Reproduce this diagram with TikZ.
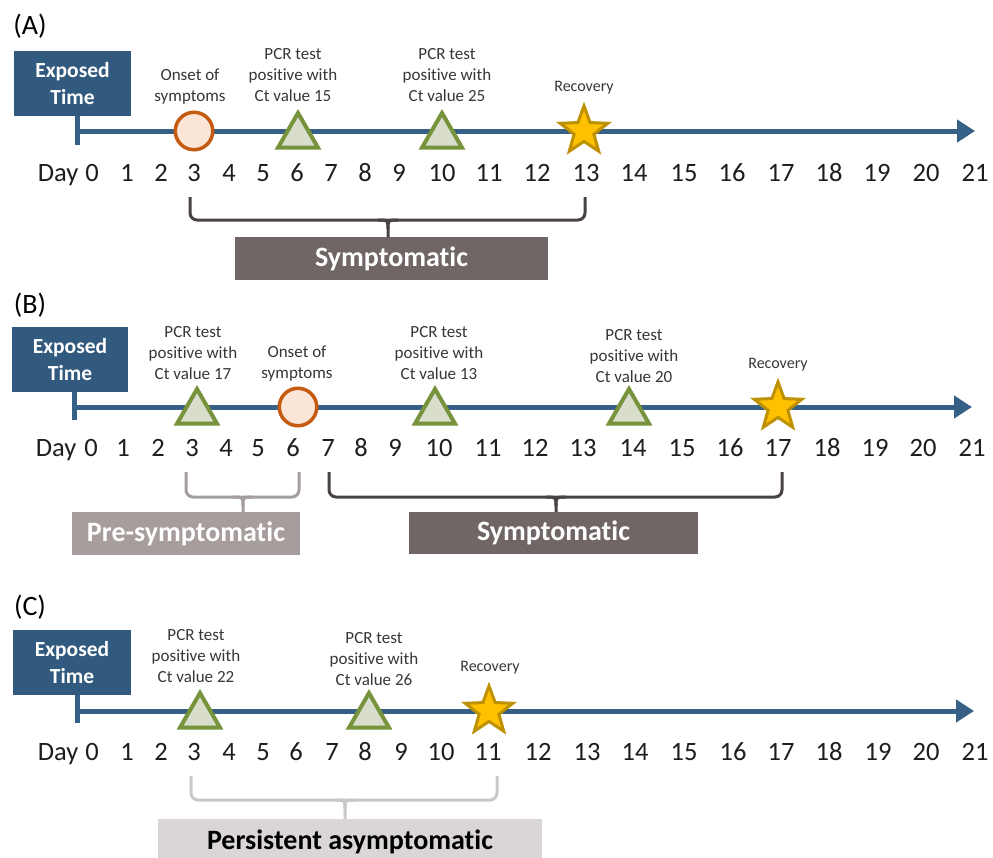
\documentclass[tikz,border=0pt]{standalone}
\usepackage{fontspec}
\setmainfont[Ligatures=NoCommon]{Carlito}
\usetikzlibrary{arrows.meta,shapes.geometric}
\definecolor{navy}{RGB}{50,90,126}
\definecolor{axisblue}{RGB}{54,96,134}
\definecolor{onsetdraw}{RGB}{197,90,17}
\definecolor{onsetfill}{RGB}{251,229,214}
\definecolor{tridraw}{RGB}{119,147,60}
\definecolor{trifill}{RGB}{216,221,204}
\definecolor{stardraw}{RGB}{190,145,0}
\definecolor{starfill}{RGB}{255,192,0}
\definecolor{labelgray}{RGB}{55,55,55}
\definecolor{daygray}{RGB}{30,30,30}
\definecolor{symbox}{RGB}{112,102,101}
\definecolor{symbrace}{RGB}{72,66,66}
\definecolor{prebox}{RGB}{166,157,156}
\definecolor{prebrace}{RGB}{165,158,158}
\definecolor{perbox}{RGB}{217,214,213}
\definecolor{perbrace}{RGB}{200,200,200}
\newcommand{\phbrace}[7]{%
  \draw[bracestyle, draw=#1] (#2,#5) -- (#2,#6) -- (#3,#6) -- (#3,#5);
  \draw[tipstyle, draw=#1] ({#4-10},#6) .. controls (#4,#6) .. (#4,{#6+9}) -- (#4,#7);
  \draw[tipstyle, draw=#1] ({#4+10},#6) .. controls (#4,#6) .. (#4,{#6+9});
}
\begin{document}
\begin{tikzpicture}[x=1pt,y=-1pt,
  exposed/.style={rectangle, fill=navy, text=white, font=\fontsize{21.5}{27}\selectfont\bfseries, align=center, minimum width=117pt, minimum height=65pt, inner sep=0pt},
  panel/.style={font=\fontsize{28}{30}\selectfont, text=black, inner sep=0pt},
  evlabel/.style={font=\fontsize{17}{21}\selectfont, text=labelgray, align=center, inner sep=0pt},
  reclabel/.style={font=\fontsize{16}{19}\selectfont, text=labelgray, inner sep=0pt},
  daylabel/.style={font=\fontsize{26.5}{30}\selectfont, text=daygray, inner sep=0pt, anchor=base},
  axisline/.style={draw=axisblue, line width=5pt},
  onset/.style={circle, draw=onsetdraw, fill=onsetfill, line width=3.5pt, minimum size=37.5pt, inner sep=0pt},
  pcr/.style={regular polygon, regular polygon sides=3, draw=tridraw, fill=trifill, line width=4pt, minimum size=46pt, inner sep=0pt},
  recov/.style={star, star points=5, star point ratio=2.4, draw=stardraw, fill=starfill, line width=3pt, minimum size=50pt, inner sep=0pt},
  bracestyle/.style={line width=3pt, rounded corners=7pt},
  tipstyle/.style={line width=3pt},
  phase/.style={rectangle, inner sep=0pt, font=\fontsize{28}{30}\selectfont\bfseries}
]
\useasboundingbox[fill=white] (0,0) rectangle (993,857);

% ---------------- Panel A ----------------
\node[panel] (Alab) at (30,26) {(A)};
\node[exposed] (Aexp) at (72.5,83.5) {Exposed\\Time};
\coordinate (Atick) at (77,145);
\coordinate (Astart) at (77,131);
\coordinate (Aend) at (975,131);
\draw[axisline] (Aexp.south -| Atick) -- (Atick);
\draw[axisline,-{Triangle[length=18pt,width=22pt]}] (Astart) -- (Aend);
\node[onset] (Aon) at (194,131) {};
\node[pcr] (Ap1) at (298,136) {};
\node[pcr] (Ap2) at (442,136) {};
\node[recov] (Arec) at (584,131) {};
\node[evlabel] (AonL) at (190,86.5) {Onset of\\symptoms};
\node[evlabel] (Ap1L) at (293,75.5) {PCR test\\positive with\\Ct value 15};
\node[evlabel] (Ap2L) at (447,75.5) {PCR test\\positive with\\Ct value 25};
\node[reclabel] (ArecL) at (584,88) {Recovery};
\node[daylabel] (Aday) at (58,181) {Day};
\foreach \d/\x in {0/92,1/127,2/161,3/194,4/229,5/263,6/297,7/331,8/365,9/399,10/442,11/489,12/537,13/586,14/634,15/684,16/732,17/781,18/829,19/877,20/926,21/975}
  {\node[daylabel] (A\d) at (\x,181) {\d};}
\node[phase, fill=symbox, text=white, minimum width=313pt, minimum height=43pt] (Asym) at (391.5,258.5) {Symptomatic};
\phbrace{symbrace}{190}{585}{388}{197}{220}{237}

% ---------------- Panel B ----------------
\node[panel] (Blab) at (30,305) {(B)};
\node[exposed, minimum width=116pt] (Bexp) at (70,359.5) {Exposed\\Time};
\coordinate (Btick) at (74,420);
\coordinate (Bstart) at (74,407);
\coordinate (Bend) at (972,407);
\draw[axisline] (Bexp.south -| Btick) -- (Btick);
\draw[axisline,-{Triangle[length=18pt,width=22pt]}] (Bstart) -- (Bend);
\node[pcr] (Bp1) at (197,412) {};
\node[onset] (Bon) at (298,407) {};
\node[pcr] (Bp2) at (435,412) {};
\node[pcr] (Bp3) at (629,412) {};
\node[recov] (Brec) at (778,407) {};
\node[evlabel] (Bp1L) at (193,353.5) {PCR test\\positive with\\Ct value 17};
\node[evlabel] (BonL) at (297,363.5) {Onset of\\symptoms};
\node[evlabel] (Bp2L) at (439,353.5) {PCR test\\positive with\\Ct value 13};
\node[evlabel] (Bp3L) at (634,356) {PCR test\\positive with\\Ct value 20};
\node[reclabel] (BrecL) at (778,365) {Recovery};
\node[daylabel] (Bday) at (56,456.5) {Day};
\foreach \d/\x in {0/91,1/123,2/158,3/192,4/226,5/258,6/293,7/328,8/361,9/395,10/439,11/488,12/535,13/583,14/633,15/682,16/730,17/778,18/827,19/875,20/923,21/972}
  {\node[daylabel] (B\d) at (\x,456.5) {\d};}
\node[phase, fill=prebox, text=white, minimum width=228pt, minimum height=43pt] (Bpre) at (186,533.5) {Pre-symptomatic};
\node[phase, fill=symbox, text=white, minimum width=289pt, minimum height=42pt] (Bsym) at (553.5,533) {Symptomatic};
\phbrace{prebrace}{186}{299}{243}{472}{497}{512}
\phbrace{symbrace}{329}{782}{556}{472}{497}{512}

% ---------------- Panel C ----------------
\node[panel] (Clab) at (30,607) {(C)};
\node[exposed, minimum width=118pt] (Cexp) at (72,662.5) {Exposed\\Time};
\coordinate (Ctick) at (77,723);
\coordinate (Cstart) at (77,711);
\coordinate (Cend) at (974,711);
\draw[axisline] (Cexp.south -| Ctick) -- (Ctick);
\draw[axisline,-{Triangle[length=18pt,width=22pt]}] (Cstart) -- (Cend);
\node[pcr] (Cp1) at (200,716) {};
\node[pcr] (Cp2) at (369,716) {};
\node[recov] (Crec) at (489,711) {};
\node[evlabel] (Cp1L) at (196,656) {PCR test\\positive with\\Ct value 22};
\node[evlabel] (Cp2L) at (374,659) {PCR test\\positive with\\Ct value 26};
\node[reclabel] (CrecL) at (490,668) {Recovery};
\node[daylabel] (Cday) at (58,760.5) {Day};
\foreach \d/\x in {0/92,1/127,2/161,3/194,4/229,5/263,6/296,7/332,8/365,9/401,10/441,11/488,12/538,13/587,14/635,15/684,16/733,17/781,18/829,19/878,20/926,21/975}
  {\node[daylabel] (C\d) at (\x,760.5) {\d};}
\node[phase, fill=perbox, text=black, minimum width=384pt, minimum height=46pt] (Cper) at (350,842) {Persistent asymptomatic};
\phbrace{perbrace}{191}{497}{345}{776}{800}{819}
\end{tikzpicture}
\end{document}
